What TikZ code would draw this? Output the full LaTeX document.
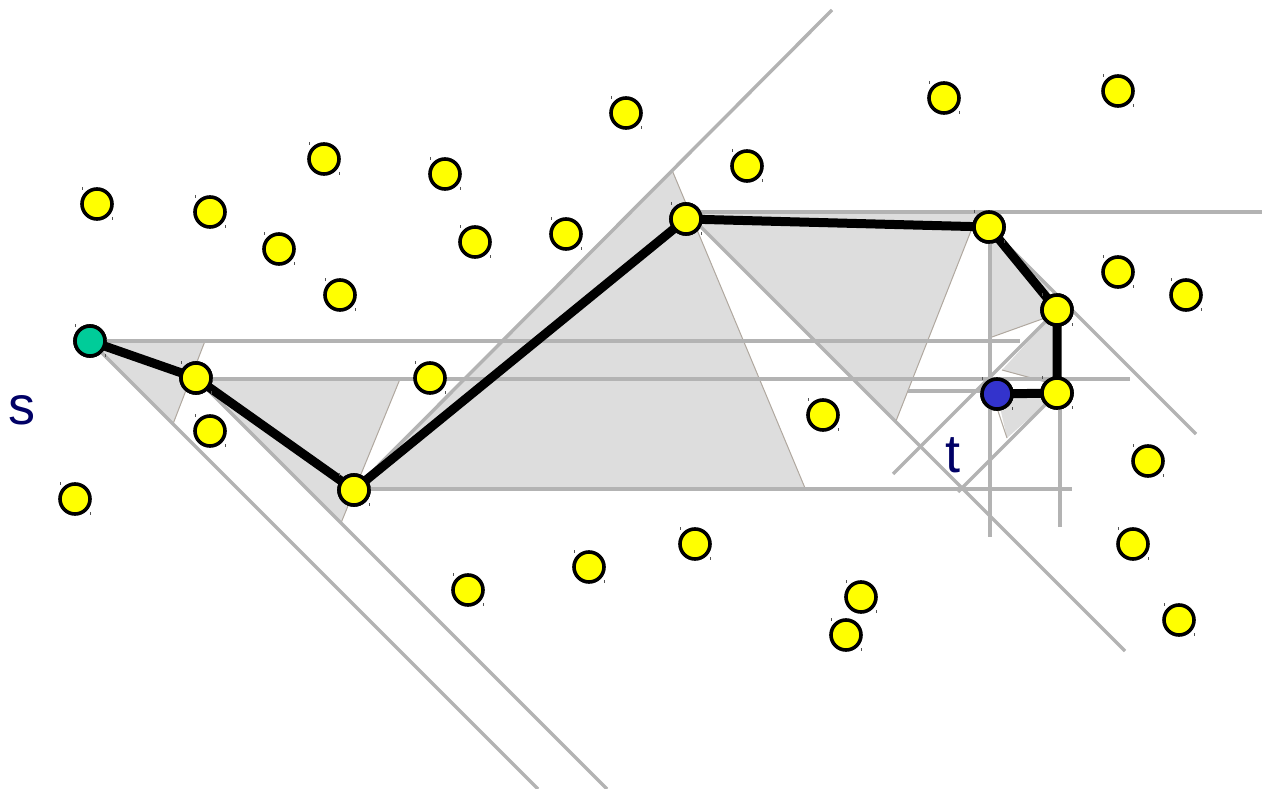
\documentclass[tikz,border=0pt]{standalone}
\usepackage{fontspec}
\setmainfont{Liberation Sans}
\definecolor{lgray}{HTML}{B3B3B3}
\definecolor{shade}{HTML}{DDDDDD}
\definecolor{thinedge}{HTML}{B0A89F}
\definecolor{dotyellow}{HTML}{FFFF00}
\definecolor{dotgreen}{HTML}{00CC99}
\definecolor{dotblue}{HTML}{3333CC}
\definecolor{labnavy}{HTML}{000066}
\definecolor{tickc}{HTML}{555555}
\begin{document}
\begin{tikzpicture}[x=1pt,y=-1pt,
  dot/.style={circle,draw=black,line width=3.6pt,minimum size=30pt,inner sep=0pt,fill=dotyellow},
  gline/.style={draw=lgray,line width=3.4pt},
  region/.style={fill=shade,draw=none},
  thin/.style={draw=thinedge,line width=1pt},
  route/.style={draw=black,line width=9pt,line cap=round,line join=round},
  tickmark/.style={draw=tickc,line width=1.2pt},
  lab/.style={text=labnavy,font=\fontsize{54}{60}\selectfont,inner sep=0pt}]
\useasboundingbox (0,0) rectangle (1262,789);

% shaded regions
\fill[region] (90,341) -- (205,341) -- (173,424) -- cycle;
\draw[thin] (205,341) -- (173,424);
\fill[region] (196,378) -- (400,379) -- (341,523) -- cycle;
\draw[thin] (400,379) -- (341,523);
\fill[region] (354,490) -- (672,170) -- (805,488) -- cycle;
\draw[thin] (672,170) -- (805,488);
\fill[region] (688,212) -- (978,213) -- (896,421) -- cycle;
\draw[thin] (978,213) -- (896,421);
\fill[region] (990,228) -- (1050,288) -- (1045,318) -- (992,337) -- cycle;
\draw[thin] (1045,318) -- (992,337);
\fill[region] (1057,310) -- (1002,370) -- (1057,386) -- cycle;
\draw[thin] (1002,370) -- (1050,383);
\fill[region] (997,394) -- (1007,438) -- (1052,398) -- cycle;
\draw[thin] (995,402) -- (1007,438);

% path nodes
\node[dot,fill=dotgreen] (s) at (90,341) {};
\node[dot] (p1) at (196,378) {};
\node[dot] (p2) at (354,490) {};
\node[dot] (p3) at (686,219) {};
\node[dot] (p4) at (989,227) {};
\node[dot] (p5) at (1057,310) {};
\node[dot] (p6) at (1057,393) {};
\node[dot,fill=dotblue] (t) at (997,394) {};

% construction coordinates
\coordinate (sEnd) at (538,789);
\coordinate (p1End) at (607,789);
\coordinate (p2Top) at (832,10);
\coordinate (hA) at (1020,341);
\coordinate (hB0) at (196,379);
\coordinate (hB) at (1130,379);
\coordinate (hC0) at (354,489);
\coordinate (hC) at (1072,489);
\coordinate (hD0) at (686,212);
\coordinate (hD) at (1262,212);
\coordinate (dA0) at (690,216);
\coordinate (dA) at (1125,651);
\coordinate (vA0) at (990,228);
\coordinate (vA) at (990,537);
\coordinate (dB) at (1196,434);
\coordinate (dC) at (893,474);
\coordinate (vB0) at (1060,393);
\coordinate (vB) at (1060,527);
\coordinate (dD) at (958,492);
\coordinate (hE0) at (908,391);
\coordinate (hE) at (990,391);

% gray lines
\draw[gline] (s.center) -- (sEnd);
\draw[gline] (p1.center) -- (p1End);
\draw[gline] (p2.center) -- (p2Top);
\draw[gline] (s.center) -- (hA);
\draw[gline] (hB0) -- (hB);
\draw[gline] (hC0) -- (hC);
\draw[gline] (hD0) -- (hD);
\draw[gline] (dA0) -- (dA);
\draw[gline] (vA0) -- (vA);
\draw[gline] (p4.center) -- (dB);
\draw[gline] (p5.center) -- (dC);
\draw[gline] (vB0) -- (vB);
\draw[gline] (p6.center) -- (dD);
\draw[gline] (hE0) -- (hE);

% route
\draw[route] (s.center) -- (p1.center) -- (p2.center) -- (p3.center) -- (p4.center) -- (p5.center) -- (p6.center) -- (t.center);

% redraw path dots on top
\node[dot,fill=dotgreen] at (s) {};
\foreach \n in {p1,p2,p3,p4,p5,p6} \node[dot] at (\n) {};
\node[dot,fill=dotblue] at (t) {};

% other points
\foreach \x/\y [count=\i] in {97/204,210/212,279/249,324/159,340/295,445/174,475/242,566/234,626/113,747/166,944/98,1118/91,1118/272,1186/295,430/378,210/431,75/499,823/415,1148/461,1133/544,1179/620,695/544,589/567,468/590,861/597,846/635}
  \node[dot] (d\i) at (\x,\y) {};

% small tick marks beside every point
\foreach \x/\y in {90/341,196/378,354/490,686/219,989/227,1057/310,1057/393,997/394,97/204,210/212,279/249,324/159,340/295,445/174,475/242,566/234,626/113,747/166,944/98,1118/91,1118/272,1186/295,430/378,210/431,75/499,823/415,1148/461,1133/544,1179/620,695/544,589/567,468/590,861/597,846/635}
  {\draw[tickmark] (\x-14.5,\y-17) -- ++(0,3);
   \draw[tickmark] (\x+15.5,\y+13) -- ++(0,3);}

% labels
\node[lab] (slab) at (22,410) {s};
\node[lab] (tlab) at (953,455) {t};
\end{tikzpicture}
\end{document}
